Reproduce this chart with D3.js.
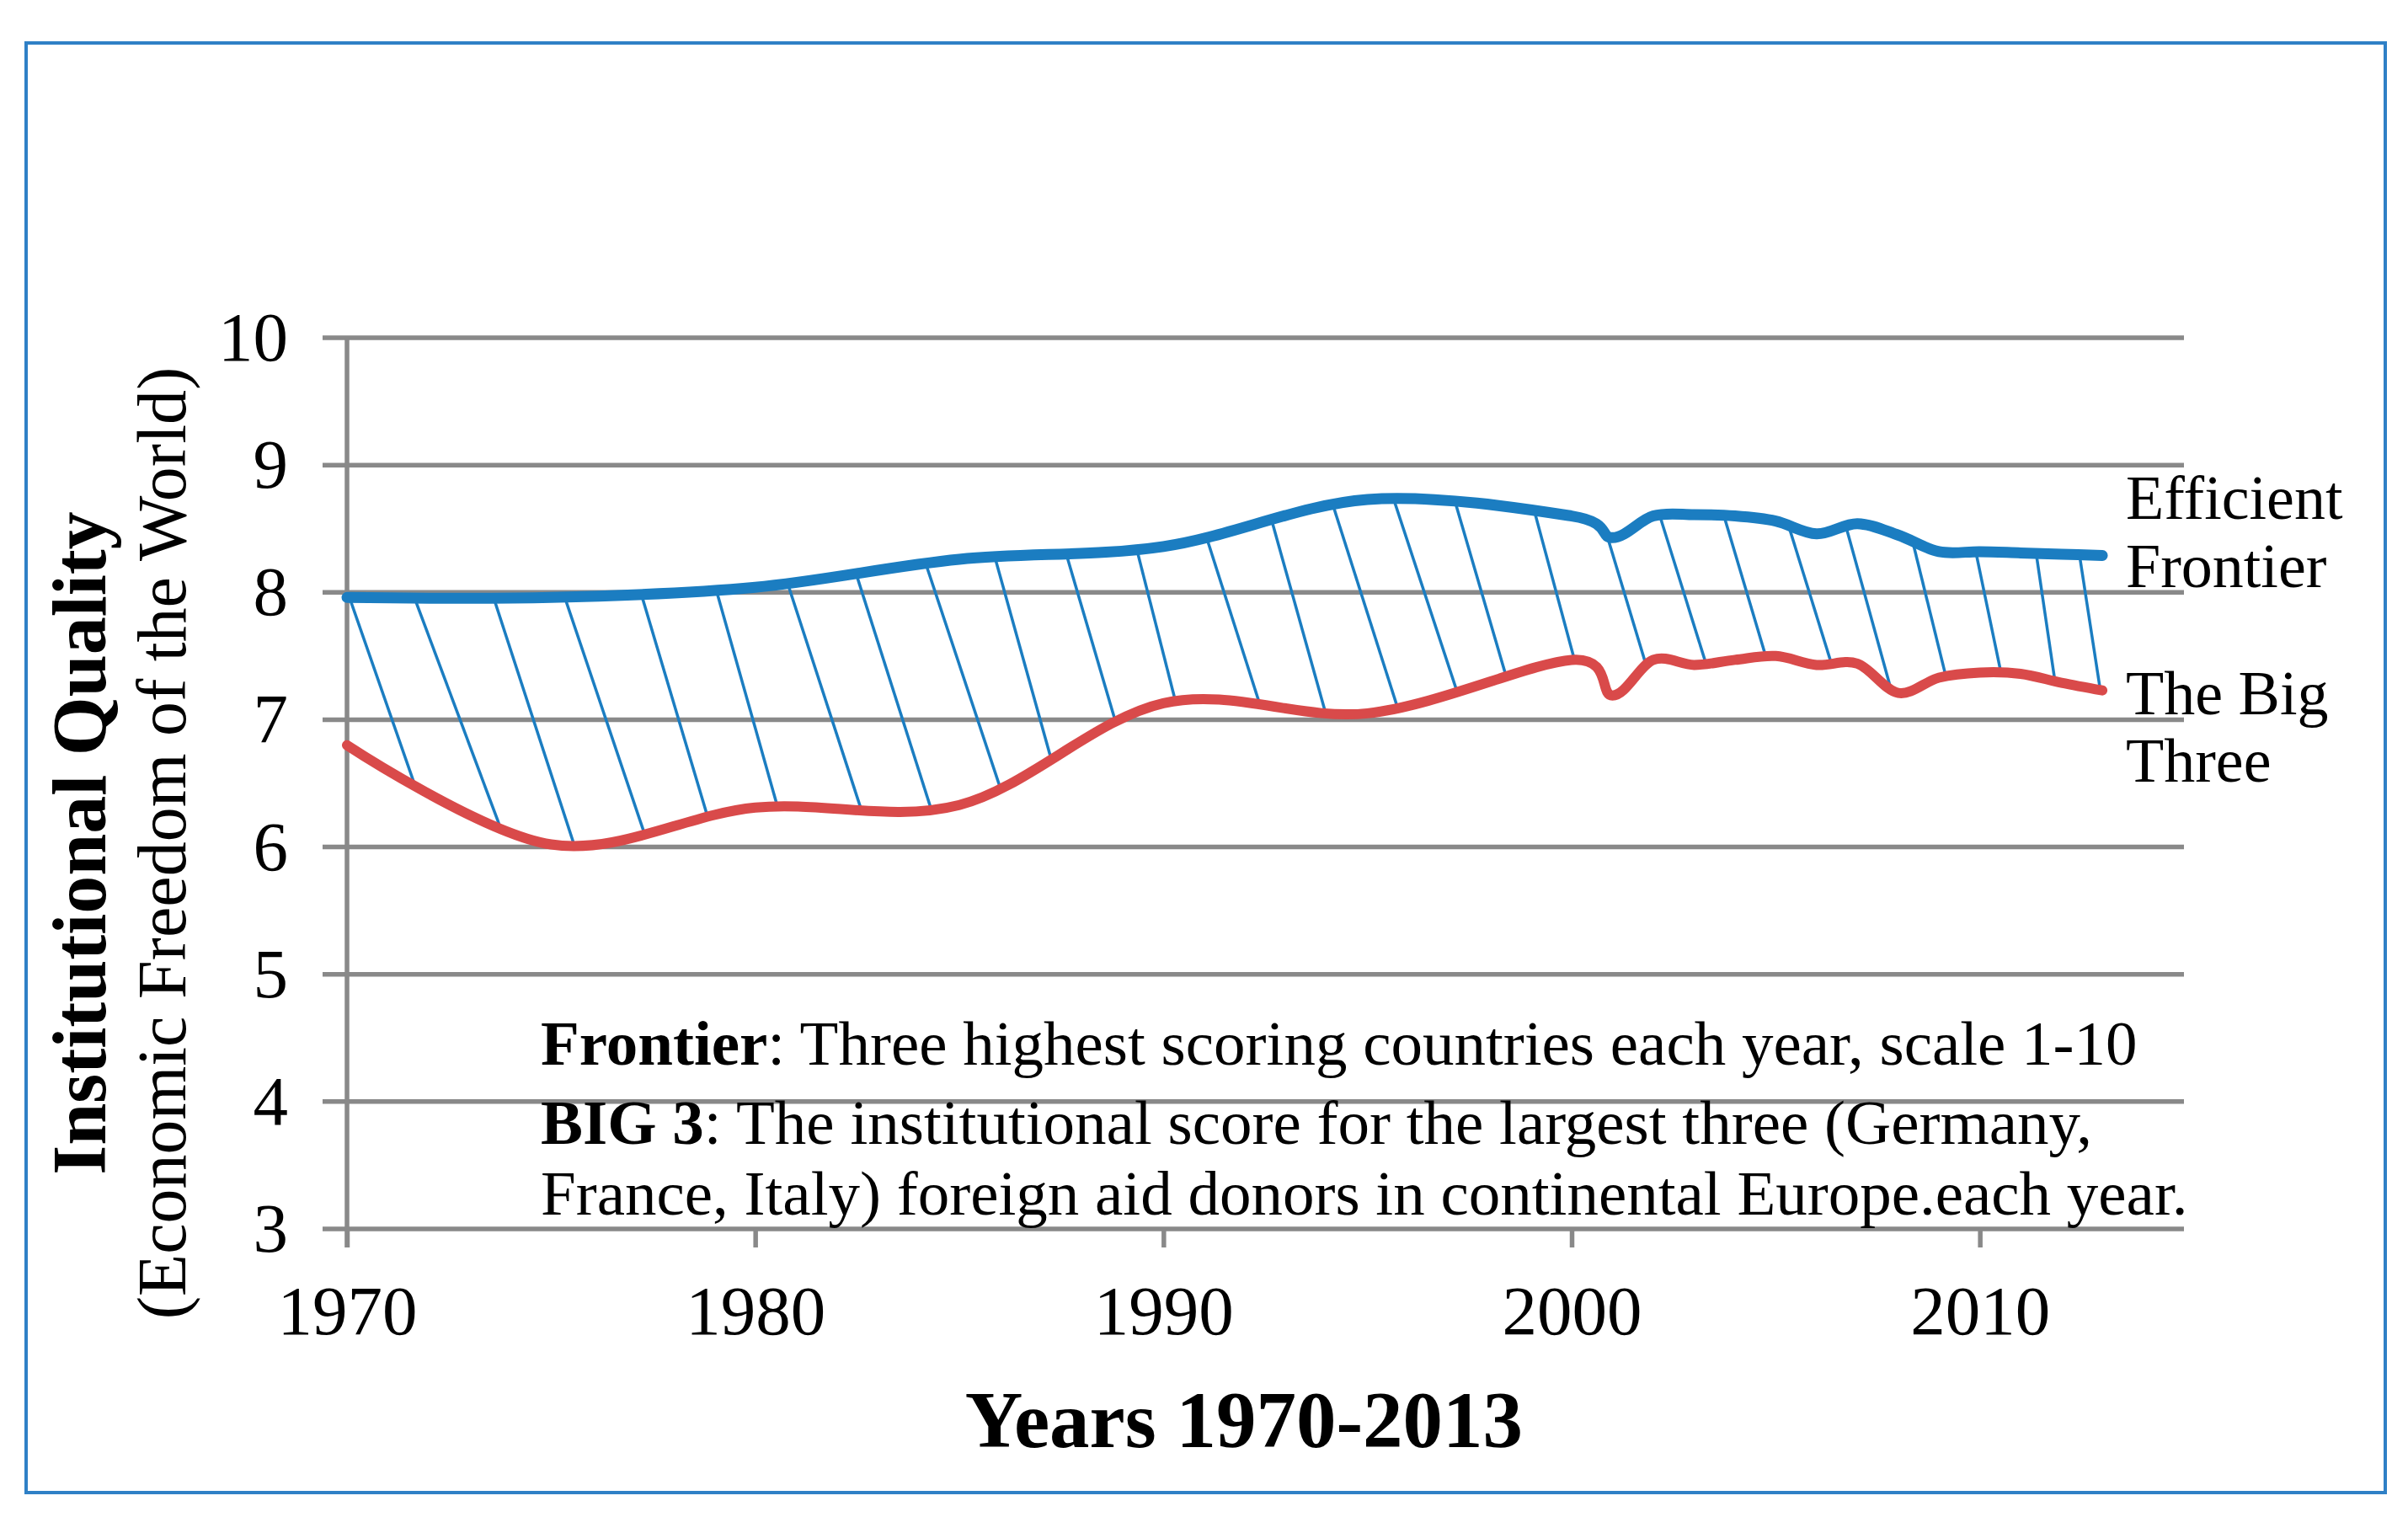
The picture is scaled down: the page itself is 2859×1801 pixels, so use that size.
<!DOCTYPE html>
<html>
<head>
<meta charset="utf-8">
<script src="https://cdn.jsdelivr.net/npm/d3@7"></script>
<style>
  body { margin: 0; background: #fff; }
  text { font-family: "Liberation Serif", "Times New Roman", serif; fill: #000; }
</style>
</head>
<body>
<div class="chart"></div>
<script>

///////////////////////////////////////////////////
//  Data
///////////////////////////////////////////////////

const years = [1970, 1975, 1980, 1985, 1990, 1995, 2000, 2001, 2002, 2003,
  2004, 2005, 2006, 2007, 2008, 2009, 2010, 2011, 2012, 2013];
const frontier = [7.96, 7.96, 8.04, 8.26, 8.36, 8.73, 8.60, 8.43, 8.60, 8.61,
  8.60, 8.56, 8.46, 8.54, 8.45, 8.32, 8.32, 8.31, 8.30, 8.29];
const bigThree = [6.80, 6.02, 6.31, 6.33, 7.13, 7.05, 7.47, 7.19, 7.47, 7.43,
  7.47, 7.50, 7.43, 7.44, 7.21, 7.33, 7.37, 7.36, 7.29, 7.23];

// hatch strokes: year where each starts on the frontier, year where it lands on the big three
const hatchTop = [1970.06, 1971.65, 1973.59, 1975.33, 1977.20, 1979.04, 1980.79, 1982.47,
  1984.18, 1985.87, 1987.61, 1989.34, 1991.05, 1992.66, 1994.17, 1995.66, 1997.18,
  1999.10, 2000.86, 2002.16, 2003.73, 2005.31, 2006.72, 2008.35, 2009.90, 2011.38, 2012.44];
const hatchBottom = [1971.59, 1973.67, 1975.53, 1977.24, 1978.83, 1980.55, 1982.57, 1984.28,
  1985.98, 1987.25, 1988.86, 1990.31, 1992.39, 1993.96, 1995.72, 1997.18, 1998.40,
  2000.09, 2001.83, 2003.29, 2004.76, 2006.37, 2007.81, 2009.17, 2010.52, 2011.84, 2012.95];

const yTicks = [3, 4, 5, 6, 7, 8, 9, 10];
const xTicks = [1970, 1980, 1990, 2000, 2010];

const seriesLabels = [["Efficient", "Frontier"], ["The Big", "Three"]];
const notes = [
  [["Frontier", true], [": Three highest scoring countries each year, scale 1-10", false]],
  [["BIG 3", true], [": The institutional score for the largest three (Germany,", false]],
  [["France, Italy) foreign aid donors in continental Europe.each year.", false]]
];

///////////////////////////////////////////////////
//  Main code
///////////////////////////////////////////////////

const width = 2859;
const height = 1801;
const gridColor = '#898989';
const blue = '#1b7dc1';
const red = '#d94a4a';

let svg = d3.select('.chart')
  .append('svg')
    .attr('width', width)
    .attr('height', height);

svg.append('rect')
  .attr('x', 31).attr('y', 51)
  .attr('width', 2801).attr('height', 1721)
  .style('fill', 'none')
  .style('stroke', '#2f80c6')
  .style('stroke-width', 4);

let x = d3.scaleLinear().domain([1970, 2015]).range([412, 2593]);
let y = d3.scaleLinear().domain([3, 10]).range([1459, 401]);

// gridlines
svg.append('g')
  .selectAll('line')
  .data(yTicks)
  .enter()
  .append('line')
    .attr('x1', x(1970) - 29)
    .attr('x2', x(2015))
    .attr('y1', d => y(d))
    .attr('y2', d => y(d))
    .style('stroke', gridColor)
    .style('stroke-width', 5.5);

// vertical axis line
svg.append('line')
  .attr('x1', x(1970)).attr('x2', x(1970))
  .attr('y1', y(10)).attr('y2', y(3) + 22)
  .style('stroke', gridColor)
  .style('stroke-width', 5.5);

let yAxis = svg.append('g')
  .attr('transform', `translate(${x(1970) - 10}, 0)`)
  .call(d3.axisLeft(y).tickValues(yTicks).tickFormat(d3.format('d')).tickSize(0).tickPadding(60));
yAxis.select('.domain').remove();
yAxis.selectAll('text')
  .style('font-family', '"Liberation Serif", serif')
  .style('font-size', '83px');

let xAxis = svg.append('g')
  .attr('transform', `translate(0, ${y(3)})`)
  .call(d3.axisBottom(x).tickValues(xTicks).tickFormat(d3.format('d')).tickSize(22).tickPadding(44));
xAxis.select('.domain').remove();
xAxis.selectAll('line')
  .style('stroke', gridColor)
  .style('stroke-width', 5.5);
xAxis.selectAll('text')
  .style('font-family', '"Liberation Serif", serif')
  .style('font-size', '83px');

// hatched band between the two series
const curve = d3.curveCardinal.tension(0);
const rows = years.map((yr, i) => ({ year: yr, top: frontier[i], low: bigThree[i] }));

const band = d3.area()
  .x(d => x(d.year))
  .y0(d => y(d.low))
  .y1(d => y(d.top))
  .curve(curve);

svg.append('clipPath')
  .attr('id', 'band-clip')
  .append('path')
    .attr('d', band(rows));

const topAt = d3.scaleLinear().domain(years).range(frontier);
const lowAt = d3.scaleLinear().domain(years).range(bigThree);

const hatch = hatchTop.map((t, i) => {
  const x1 = x(t), y1 = y(topAt(t));
  const x2 = x(hatchBottom[i]), y2 = y(lowAt(hatchBottom[i]));
  const len = Math.hypot(x2 - x1, y2 - y1);
  const ux = (x2 - x1) / len, uy = (y2 - y1) / len;
  return { x1: x1 - ux * 40, y1: y1 - uy * 40, x2: x2 + ux * 40, y2: y2 + uy * 40 };
});

svg.append('g')
  .attr('clip-path', 'url(#band-clip)')
  .selectAll('line')
  .data(hatch)
  .enter()
  .append('line')
    .attr('x1', d => d.x1)
    .attr('y1', d => d.y1)
    .attr('x2', d => d.x2)
    .attr('y2', d => d.y2)
    .style('stroke', blue)
    .style('stroke-width', 3.5);

// series lines
const lineTop = d3.line().x(d => x(d.year)).y(d => y(d.top)).curve(curve);
const lineLow = d3.line().x(d => x(d.year)).y(d => y(d.low)).curve(curve);

svg.append('path')
  .attr('d', lineLow(rows))
  .style('fill', 'none')
  .style('stroke', red)
  .style('stroke-width', 12)
  .style('stroke-linecap', 'round');

svg.append('path')
  .attr('d', lineTop(rows))
  .style('fill', 'none')
  .style('stroke', blue)
  .style('stroke-width', 13)
  .style('stroke-linecap', 'round');

// series labels on the right
const labelBaselines = [[616, 697], [848, 928]];
seriesLabels.forEach((lines, i) => {
  lines.forEach((txt, j) => {
    svg.append('text')
      .attr('x', 2524)
      .attr('y', labelBaselines[i][j])
      .style('font-size', '74px')
      .text(txt);
  });
});

// notes
const noteBaselines = [1264, 1358, 1442];
notes.forEach((parts, i) => {
  let t = svg.append('text')
    .attr('x', 642)
    .attr('y', noteBaselines[i])
    .style('font-size', '75px');
  parts.forEach(p => {
    t.append('tspan')
      .style('font-weight', p[1] ? 'bold' : 'normal')
      .text(p[0]);
  });
});

// axis titles
svg.append('text')
  .attr('transform', 'translate(125, 1001) rotate(-90)')
  .attr('text-anchor', 'middle')
  .style('font-size', '90px')
  .style('font-weight', 'bold')
  .text('Institutional Quality');

svg.append('text')
  .attr('transform', 'translate(220, 1001) rotate(-90)')
  .attr('text-anchor', 'middle')
  .style('font-size', '82px')
  .text('(Economic Freedom of the World)');

svg.append('text')
  .attr('x', 1477)
  .attr('y', 1718)
  .attr('text-anchor', 'middle')
  .style('font-size', '95px')
  .style('font-weight', 'bold')
  .text('Years 1970-2013');

</script>
</body>
</html>
